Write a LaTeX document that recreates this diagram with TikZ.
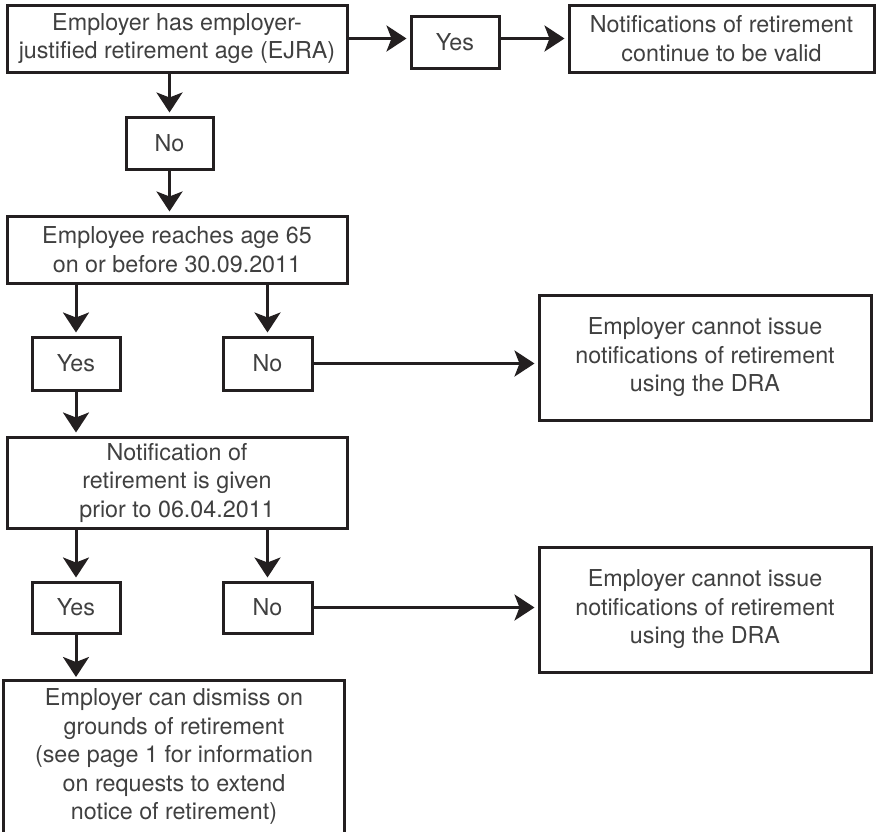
\documentclass[tikz,border=0pt]{standalone}
\usepackage{fontspec}
\setmainfont{TeX Gyre Heros}
\usetikzlibrary{arrows.meta}
\definecolor{lc}{HTML}{231F20}
\definecolor{txt}{HTML}{404040}
\newcommand\boxfont{\fontsize{23.3pt}{28.5pt}\selectfont}
\tikzset{
  box/.style={draw=lc, line width=3pt, text=txt, align=center, inner sep=0pt, font=\boxfont},
  openbox/.style={box, draw=none},
  boxline/.style={draw=lc, line width=3pt},
  arr/.style={draw=lc, line width=3pt, shorten >=3pt, -{Stealth[length=20pt,width=26pt,inset=5pt]}}
}
\begin{document}
\begin{tikzpicture}[x=1pt,y=-1pt]
\useasboundingbox (0,0) rectangle (877,831);
\clip (0,0) rectangle (877,831);
\node[box, minimum width=340, minimum height=67] (b1) at (177,38.5) {Employer has employer-\\justified retirement age (EJRA)};
\node[box, minimum width=88, minimum height=52] (y1) at (455,42) {Yes};
\node[box, minimum width=305, minimum height=67] (b3) at (721.5,38.5) {Notifications of retirement\\continue to be valid};
\node[box, minimum width=87, minimum height=52] (n1) at (169.5,143) {No};
\node[box, minimum width=340, minimum height=67] (b5) at (177,249.5) {Employee reaches age 65\\on or before 30.09.2011};
\node[box, minimum width=88, minimum height=53] (y2) at (76,363.5) {Yes};
\node[box, minimum width=89, minimum height=53] (n2) at (267.5,363.5) {No};
\node[box, minimum width=332, minimum height=125] (b8) at (705,357.5) {Employer cannot issue\\notifications of retirement\\using the DRA};
\node[box, minimum width=340, minimum height=91] (b9) at (177,482.5) {Notification of\\retirement is given\\prior to 06.04.2011};
\node[box, minimum width=88, minimum height=51] (y3) at (76,607.5) {Yes};
\node[box, minimum width=89, minimum height=51] (n3) at (267.5,607.5) {No};
\node[box, minimum width=332, minimum height=125] (b12) at (705,609.5) {Employer cannot issue\\notifications of retirement\\using the DRA};
\node[openbox, minimum width=338, minimum height=150, anchor=north] (b13) at (174,680) {Employer can dismiss on\\grounds of retirement\\(see page 1 for information\\on requests to extend\\notice of retirement)};
\draw[boxline] ([yshift=-20pt]b13.south west) -- (b13.north west) -- (b13.north east) -- ([yshift=-20pt]b13.south east);
\draw[arr] (b1.east) -- (b1.east -| y1.west);
\draw[arr] (y1.east |- b1.east) -- (b3.west);
\draw[arr] (n1.north |- b1.south) -- (n1.north);
\draw[arr] (n1.south) -- (n1.south |- b5.north);
\draw[arr] (y2.north |- b5.south) -- (y2.north);
\draw[arr] (n2.north |- b5.south) -- (n2.north);
\draw[arr] (n2.east) -- (b8.west |- n2.east);
\draw[arr] (y2.south) -- (y2.south |- b9.north);
\draw[arr] (y3.north |- b9.south) -- (y3.north);
\draw[arr] (n3.north |- b9.south) -- (n3.north);
\draw[arr] (n3.east) -- (b12.west |- n3.east);
\draw[arr] (y3.south) -- (y3.south |- b13.north);
\end{tikzpicture}
\end{document}
